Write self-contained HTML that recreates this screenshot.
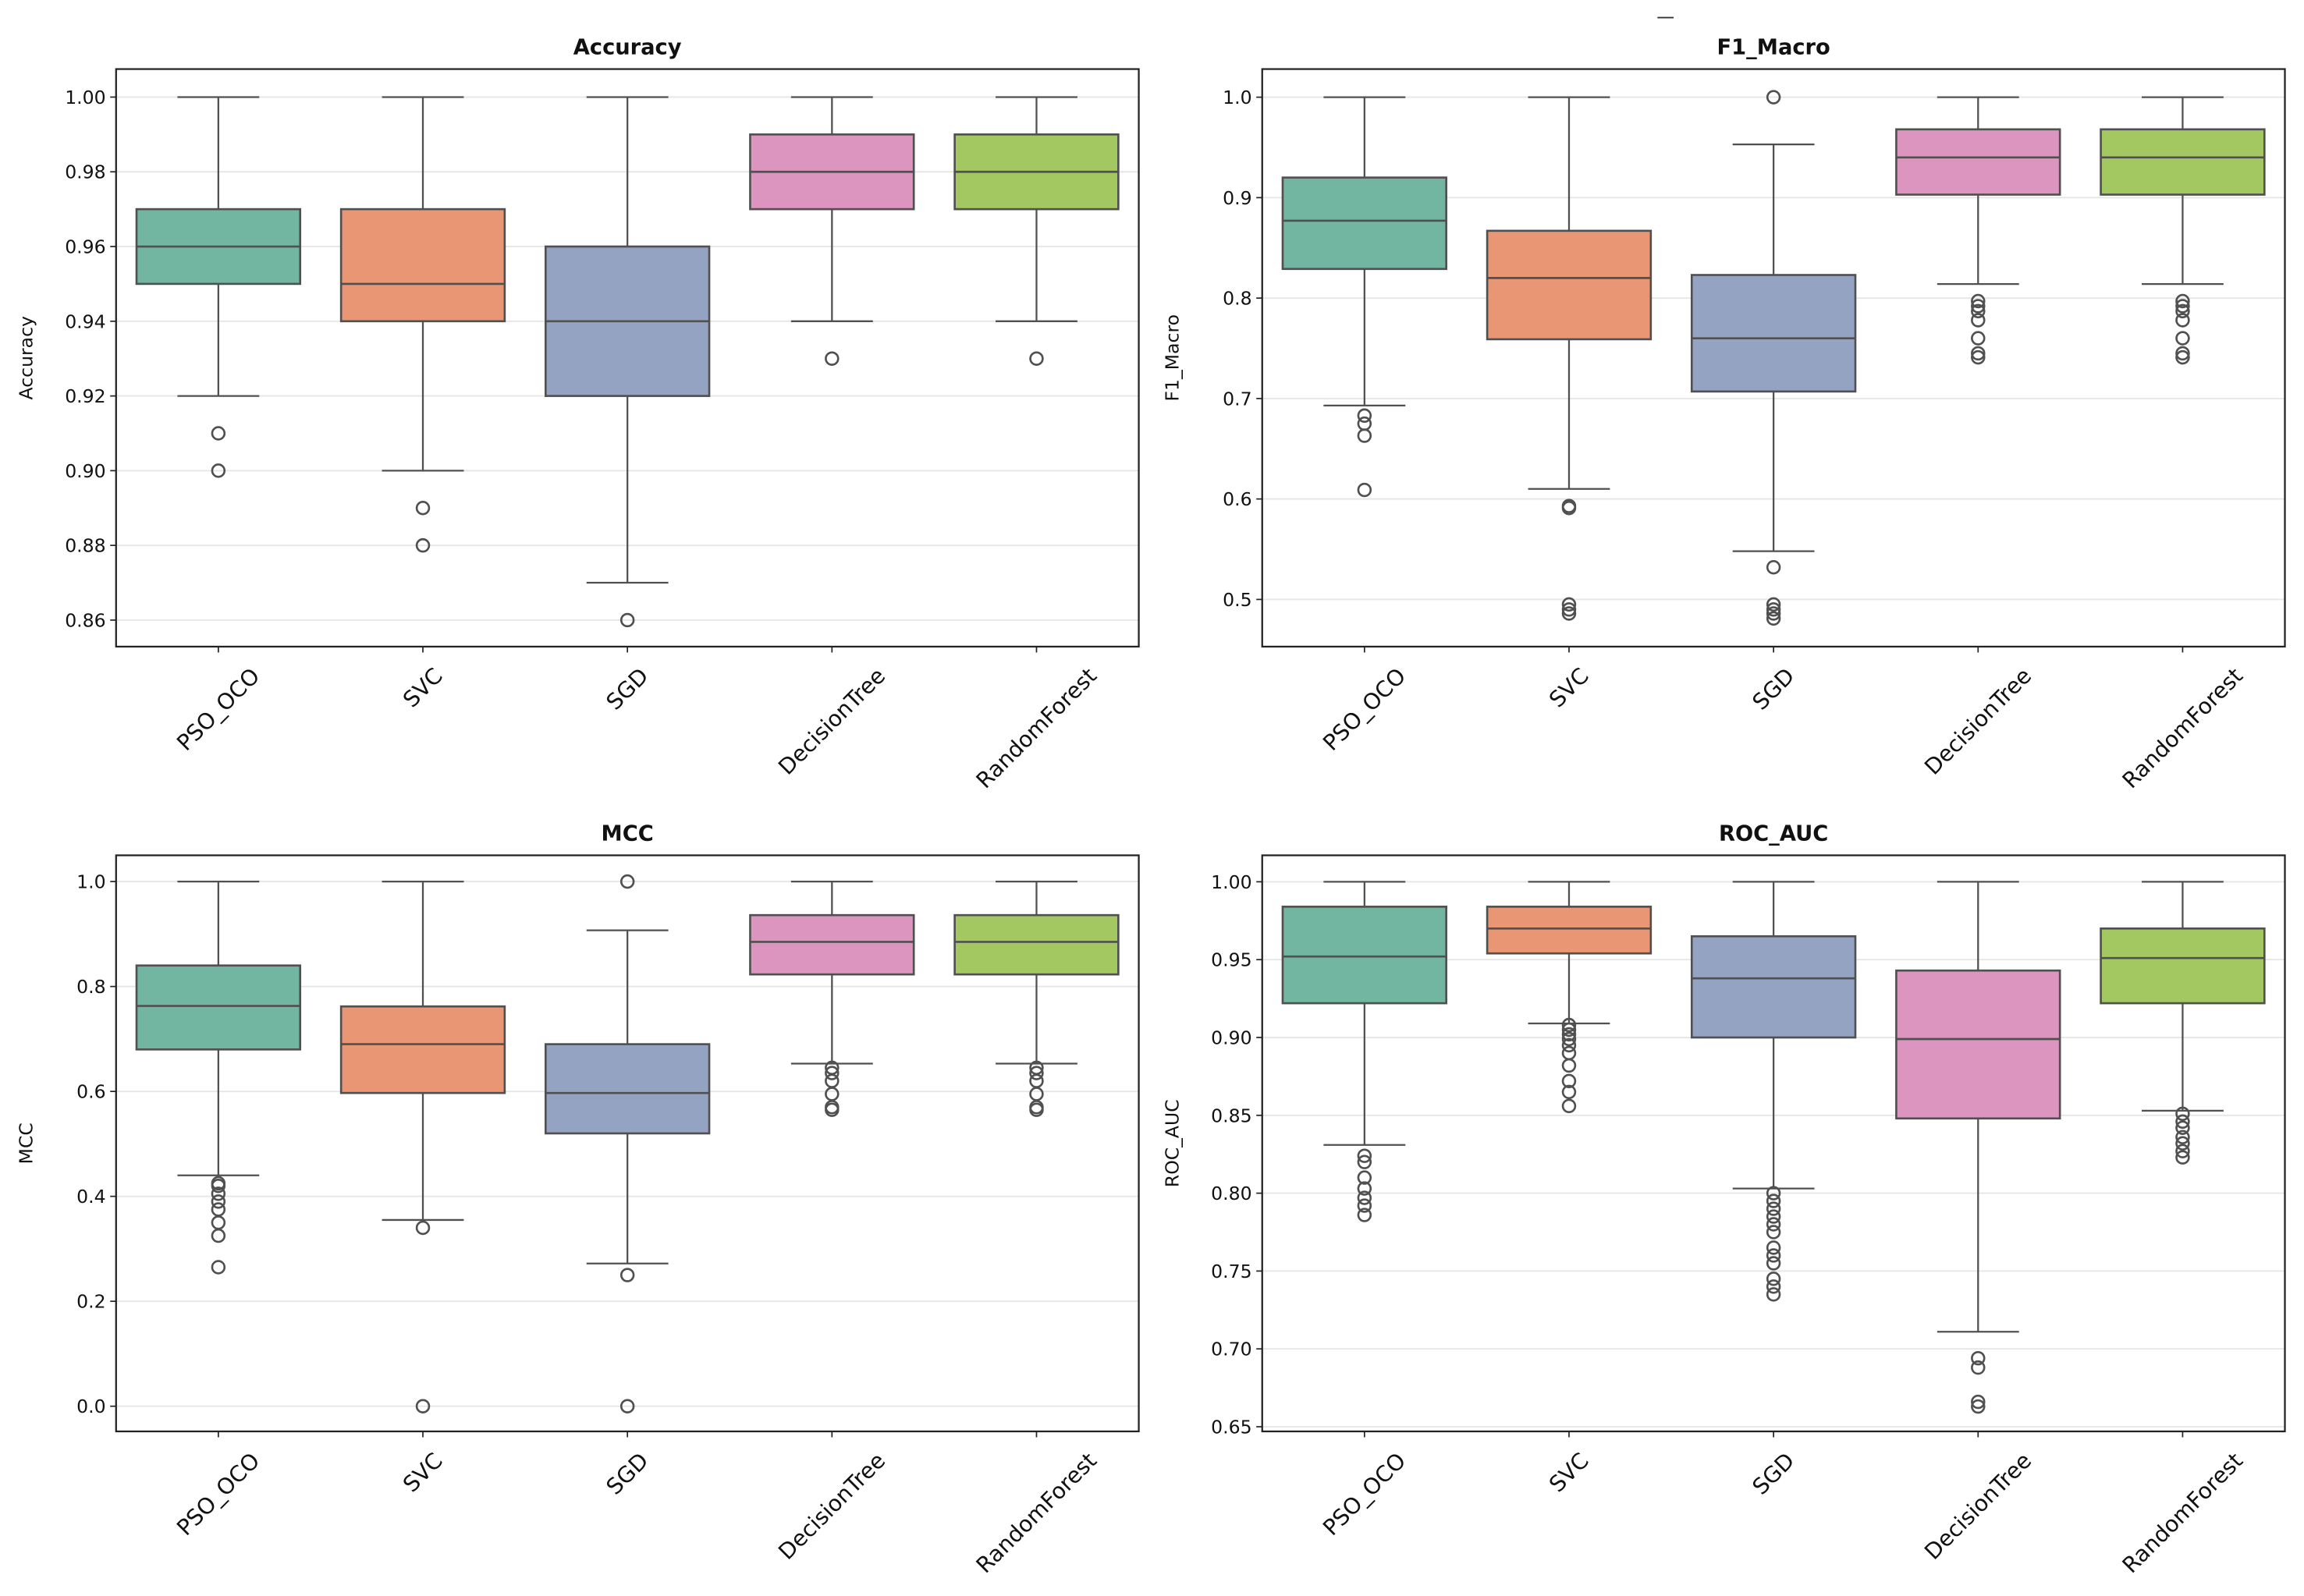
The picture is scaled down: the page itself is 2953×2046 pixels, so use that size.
<!DOCTYPE html>
<html><head><meta charset="utf-8"><style>
html,body{margin:0;padding:0;background:#fff}
svg{display:block}
text{font-family:"DejaVu Sans","Liberation Sans",sans-serif;fill:#111}
</style></head><body>
<svg id="chart" width="2953" height="2046" viewBox="0 0 1568 1086" preserveAspectRatio="none" xmlns="http://www.w3.org/2000/svg">
<rect x="0" y="0" width="1568" height="1086" fill="#fff"/>
<line x1="1128" y1="12" x2="1139" y2="12" stroke="#333" stroke-width="1"/>
</svg>
<script>
const categories = ["PSO_OCO","SVC","SGD","DecisionTree","RandomForest"];
const colors = ["#72b5a0","#e99675","#94a3c2","#dc95bf","#a3c862"];

// [whisker low, q1, median, q3, whisker high]
const accStats = [[0.92,0.95,0.96,0.97,1.0],[0.90,0.94,0.95,0.97,1.0],[0.87,0.92,0.94,0.96,1.0],[0.94,0.97,0.98,0.99,1.0],[0.94,0.97,0.98,0.99,1.0]];
const accOut = [[0.91,0.90],[0.89,0.88],[0.86],[0.93],[0.93]];
const accTicks = [0.86,0.88,0.90,0.92,0.94,0.96,0.98,1.00];

const f1Stats = [[0.693,0.829,0.877,0.920,1.0],[0.610,0.759,0.820,0.867,1.0],[0.548,0.707,0.760,0.823,0.953],[0.814,0.903,0.940,0.968,1.0],[0.814,0.903,0.940,0.968,1.0]];
const f1Out = [[0.683,0.675,0.663,0.609],[0.593,0.591,0.495,0.490,0.486],[1.0,0.532,0.495,0.490,0.486,0.481],[0.797,0.792,0.787,0.778,0.760,0.745,0.741],[0.797,0.792,0.787,0.778,0.760,0.745,0.741]];
const f1Ticks = [0.5,0.6,0.7,0.8,0.9,1.0];

const mccStats = [[0.44,0.68,0.763,0.84,1.0],[0.355,0.597,0.69,0.762,1.0],[0.272,0.52,0.597,0.69,0.907],[0.653,0.823,0.885,0.936,1.0],[0.653,0.823,0.885,0.936,1.0]];
const mccOut = [[0.425,0.42,0.405,0.39,0.375,0.35,0.325,0.265],[0.34,0.0],[1.0,0.25,0.0],[0.645,0.635,0.62,0.595,0.57,0.565],[0.645,0.635,0.62,0.595,0.57,0.565]];
const mccTicks = [0.0,0.2,0.4,0.6,0.8,1.0];

const rocStats = [[0.831,0.922,0.952,0.984,1.0],[0.909,0.954,0.970,0.984,1.0],[0.803,0.900,0.938,0.965,1.0],[0.711,0.848,0.899,0.943,1.0],[0.853,0.922,0.951,0.970,1.0]];
const rocOut = [[0.824,0.820,0.810,0.803,0.797,0.792,0.786],[0.908,0.905,0.902,0.899,0.895,0.890,0.882,0.872,0.865,0.856],[0.800,0.795,0.790,0.785,0.780,0.775,0.765,0.760,0.755,0.745,0.740,0.735],[0.694,0.688,0.666,0.663],[0.851,0.846,0.842,0.836,0.832,0.827,0.823]];
const rocTicks = [0.65,0.70,0.75,0.80,0.85,0.90,0.95,1.00];

const NS = "http://www.w3.org/2000/svg";
const svg = document.getElementById("chart");
function mk(tag, attrs, parent){const e=document.createElementNS(NS,tag);for(const k in attrs)e.setAttribute(k,attrs[k]);(parent||svg).appendChild(e);return e;}

function panel(cfg){
  const {name,title,L,R,T,B,yMin,yMax,ticks,dec,stats,outs} = cfg;
  const g = mk("g",{});
  
  
  const y = v => B - (v - yMin)/(yMax - yMin)*(B - T);
  const step = (R-L)/categories.length;
  const x = i => L + step*(i+0.5);
  const bw = step*0.8;
  const lc = "#505050";
  ticks.forEach(t=>{
    const gl = mk("line",{x1:L,x2:R,y1:y(t),y2:y(t),stroke:"#e6e6e6","stroke-width":1},g);
    
    
    mk("line",{x1:L-4,x2:L,y1:y(t),y2:y(t),stroke:"#222","stroke-width":0.9},g);
    const tl = mk("text",{x:L-7,y:y(t)+4.5,"text-anchor":"end","font-size":12.5},g);
    tl.textContent = t.toFixed(dec);
    
    
  });
  stats.forEach((s,i)=>{
    const cx = x(i);
    const bg = mk("g",{},g);
    
    
    mk("line",{x1:cx,x2:cx,y1:y(s[0]),y2:y(s[1]),stroke:lc,"stroke-width":1.2},bg);
    mk("line",{x1:cx,x2:cx,y1:y(s[3]),y2:y(s[4]),stroke:lc,"stroke-width":1.2},bg);
    mk("line",{x1:cx-bw/4,x2:cx+bw/4,y1:y(s[0]),y2:y(s[0]),stroke:lc,"stroke-width":1.2},bg);
    mk("line",{x1:cx-bw/4,x2:cx+bw/4,y1:y(s[4]),y2:y(s[4]),stroke:lc,"stroke-width":1.2},bg);
    mk("rect",{x:cx-bw/2,y:y(s[3]),width:bw,height:y(s[1])-y(s[3]),fill:colors[i],stroke:lc,"stroke-width":1.4},bg);
    mk("line",{x1:cx-bw/2,x2:cx+bw/2,y1:y(s[2]),y2:y(s[2]),stroke:lc,"stroke-width":1.4},bg);
    outs[i].forEach(o=>{
      const c = mk("circle",{cx:cx,cy:y(o),r:4.2,fill:"none",stroke:lc,"stroke-width":1.4},g);
      
      
    });
    mk("line",{x1:cx,x2:cx,y1:B,y2:B+4,stroke:"#222","stroke-width":0.9},g);
    const xl = mk("text",{x:0,y:0,"text-anchor":"middle","font-size":15},g);
    xl.textContent = categories[i];
    const len = xl.getComputedTextLength();
    const half = (len*0.7071 + 15*0.7071)/2;
    xl.setAttribute("transform",`translate(${cx},${B+12+half}) rotate(-45) translate(0,5)`);
    
    
  });
  mk("rect",{x:L,y:T,width:R-L,height:B-T,fill:"none",stroke:"#222","stroke-width":1.2},g);
  const tt = mk("text",{x:(L+R)/2,y:T-10,"text-anchor":"middle","font-size":14.5,"font-weight":"bold"},g);
  tt.textContent = title;
  
  
  const yl = mk("text",{x:0,y:0,"text-anchor":"middle","font-size":12.5,transform:`translate(${L-57},${(T+B)/2}) rotate(-90)`},g);
  yl.textContent = title;
  
  
}

panel({name:"accuracy",title:"Accuracy",L:79,R:775,T:47,B:440,yMin:0.8529,yMax:1.0075,ticks:accTicks,dec:2,stats:accStats,outs:accOut});
panel({name:"f1-macro",title:"F1_Macro",L:859,R:1555,T:47,B:440,yMin:0.453,yMax:1.028,ticks:f1Ticks,dec:1,stats:f1Stats,outs:f1Out});
panel({name:"mcc",title:"MCC",L:79,R:775,T:582,B:974,yMin:-0.048,yMax:1.050,ticks:mccTicks,dec:1,stats:mccStats,outs:mccOut});
panel({name:"roc-auc",title:"ROC_AUC",L:859,R:1555,T:582,B:974,yMin:0.647,yMax:1.017,ticks:rocTicks,dec:2,stats:rocStats,outs:rocOut});
</script>
</body></html>
